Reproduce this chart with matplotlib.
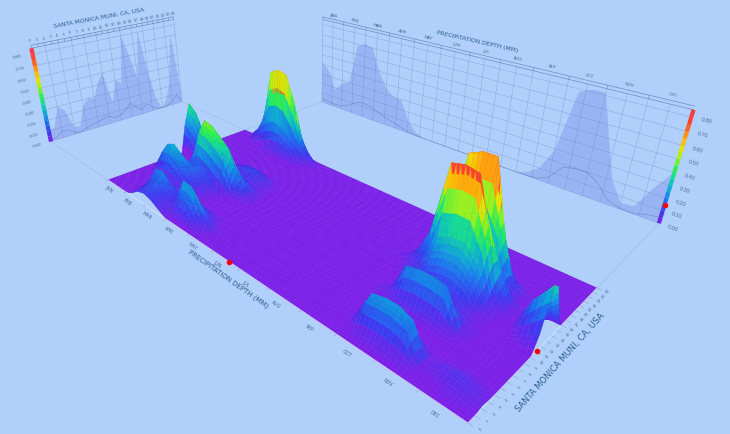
import numpy as np
import matplotlib
matplotlib.use('Agg')
import matplotlib.pyplot as plt
from matplotlib.colors import LinearSegmentedColormap
from mpl_toolkits.mplot3d.art3d import Poly3DCollection

month_names = ['JAN', 'FEB', 'MAR', 'APR', 'MAY', 'JUN', 'JUL', 'AUG', 'SEP', 'OCT', 'NOV', 'DEC']
hours = list(range(25))
# one column every third of a month
col_x = np.arange(37) / 3
station = 'SANTA MONICA MUNI, CA, USA'
depth_title = 'PRECIPITATION DEPTH (MM)'
z_ticks = [0.0, 0.1, 0.2, 0.3, 0.4, 0.5, 0.6, 0.7, 0.8]
z_top = 0.85
cursor_x, cursor_y, cursor_z = 5.6, 11.2, 0.15

# depth in 1/100 mm, one row per hour, columns 0-13 (Jan to mid Feb/Mar/Apr)
early_depth = [
    [0, 0, 0, 0, 3, 8, 10, 8, 4, 0, 0, 0, 0, 0],
    [0, 0, 0, 0, 4, 10, 12, 8, 5, 6, 12, 11, 4, 0],
    [0, 0, 0, 0, 4, 14, 17, 10, 6, 16, 30, 29, 12, 3],
    [0, 0, 0, 0, 6, 20, 22, 11, 5, 9, 15, 13, 5, 0],
    [0, 0, 0, 0, 2, 6, 7, 5, 3, 3, 5, 5, 2, 0],
    [0, 0, 0, 3, 6, 6, 4, 2, 0, 0, 0, 0, 0, 0],
    [0, 0, 10, 22, 24, 20, 13, 8, 3, 0, 0, 0, 0, 0],
    [0, 2, 10, 27, 30, 24, 16, 10, 6, 0, 0, 0, 0, 0],
    [0, 0, 3, 10, 12, 14, 16, 12, 8, 4, 0, 0, 0, 0],
    [0, 0, 0, 2, 5, 22, 42, 40, 35, 28, 12, 2, 0, 0],
    [0, 0, 0, 0, 10, 30, 50, 48, 42, 36, 20, 5, 0, 0],
    [0, 0, 0, 0, 3, 8, 18, 20, 20, 16, 10, 5, 0, 0],
    [0, 0, 0, 0, 0, 2, 3, 3, 5, 6, 5, 2, 0, 0],
    [25, 20, 10, 3, 0, 0, 3, 5, 9, 10, 6, 2, 0, 0],
    [42, 36, 18, 5, 2, 2, 4, 7, 10, 11, 8, 3, 0, 0],
    [20, 15, 5, 0, 0, 0, 2, 4, 6, 6, 3, 0, 0, 0],
    [0, 0, 0, 0, 0, 0, 0, 0, 0, 0, 0, 0, 0, 0],
    [0, 0, 0, 0, 0, 0, 0, 0, 0, 0, 0, 0, 0, 0],
    [0, 0, 0, 0, 0, 0, 0, 0, 0, 0, 0, 0, 0, 0],
    [0, 0, 0, 0, 0, 0, 0, 0, 0, 0, 0, 0, 0, 0],
    [0, 0, 0, 0, 0, 0, 0, 0, 0, 0, 0, 0, 0, 0],
    [0, 0, 0, 0, 0, 3, 5, 8, 8, 4, 0, 0, 0, 0],
    [0, 0, 0, 10, 18, 25, 28, 25, 18, 12, 5, 0, 0, 0],
    [0, 0, 0, 5, 30, 68, 72, 70, 50, 20, 5, 0, 0, 0],
    [0, 0, 0, 0, 5, 10, 12, 12, 8, 3, 0, 0, 0, 0],
]

# same, columns 25-36 (Sep to Dec)
late_depth = [
    [0, 0, 0, 0, 0, 0, 0, 0, 0, 0, 0, 0],
    [0, 0, 0, 3, 4, 4, 3, 0, 0, 2, 2, 0],
    [0, 0, 2, 20, 21, 21, 18, 2, 3, 5, 4, 2],
    [0, 0, 2, 23, 25, 25, 21, 2, 4, 6, 4, 1],
    [0, 0, 0, 4, 5, 5, 4, 0, 1, 2, 1, 0],
    [0, 0, 0, 0, 0, 0, 0, 0, 0, 0, 0, 0],
    [0, 0, 0, 0, 0, 0, 0, 0, 0, 0, 0, 0],
    [0, 0, 2, 6, 7, 7, 5, 2, 0, 0, 0, 0],
    [0, 2, 6, 26, 28, 28, 26, 4, 0, 0, 0, 0],
    [0, 0, 5, 11, 13, 13, 11, 3, 0, 0, 0, 0],
    [0, 0, 2, 6, 7, 8, 6, 2, 0, 0, 0, 0],
    [0, 0, 3, 9, 12, 12, 9, 2, 0, 0, 5, 12],
    [0, 3, 8, 20, 24, 24, 17, 5, 0, 0, 25, 40],
    [0, 5, 12, 32, 36, 36, 26, 7, 2, 0, 24, 36],
    [3, 8, 28, 78, 80, 78, 50, 15, 3, 0, 10, 22],
    [0, 10, 25, 55, 60, 58, 40, 20, 5, 0, 2, 8],
    [0, 0, 10, 25, 35, 35, 30, 10, 0, 0, 0, 0],
    [0, 0, 25, 78, 82, 82, 45, 12, 3, 0, 0, 0],
    [0, 0, 8, 35, 40, 40, 30, 6, 0, 0, 0, 0],
    [0, 0, 0, 8, 10, 10, 8, 0, 0, 0, 0, 0],
    [0, 0, 0, 0, 0, 0, 0, 0, 0, 0, 0, 0],
    [0, 0, 0, 0, 0, 0, 0, 0, 0, 0, 0, 0],
    [0, 0, 0, 0, 0, 0, 0, 0, 0, 0, 0, 0],
    [0, 0, 0, 0, 0, 0, 0, 0, 0, 0, 0, 0],
    [0, 0, 0, 0, 0, 0, 0, 0, 0, 0, 0, 0],
]

depth = np.zeros((25, 37))
depth[:, :14] = np.array(early_depth) / 100
depth[:, 25:] = np.array(late_depth) / 100

bg = '#b0cffa'
ramp_at = [0, 0.09, 0.18, 0.27, 0.35, 0.43, 0.51, 0.59, 0.67, 0.75, 0.85]
ramp = ['#7d1fe8', '#3f38f0', '#1f70f0', '#10a8d8', '#14d8a0',
        '#30f050', '#a0f020', '#f0e000', '#ff9a10', '#ff4a20', '#f03a50']
rainbow = LinearSegmentedColormap.from_list('rb', [(v / z_top, c) for v, c in zip(ramp_at, ramp)])

g, h, s = -0.422 / 12, 0.17739 / 24, -0.094
cam = np.array([
    [162.5 / 12, 180.46 / 24, 309 * s, 108],
    [(434 * g - 64.5 / 12), (434 * h + 26.94 / 24), (434 - 1368) * s, 434 - 180],
    [0, 0, 0, -1],
    [g, h, s, 1],
])

fig = plt.figure(figsize=(7.3, 4.34), dpi=100, facecolor=bg)
ax = fig.add_axes([0, 0, 1, 1], projection='3d', computed_zorder=False)
ax.set_axis_off()
ax.set_facecolor(bg)
# ortho only switches off mplot3d's clipping of lines and markers, the camera is ours
ax.set_proj_type('ortho')
ax.get_proj = lambda: cam
ax.apply_aspect = lambda position=None: None
ax.viewLim.intervalx = (0, 730)
ax.viewLim.intervaly = (0, 434)

wall_x = -3.72
wall_y = 41.64
line_c = '#45609f'
text_c = '#4a6a90'
title_c = '#2c5c8c'


def line(xs, ys, zs, c=line_c, lw=0.4, alpha=0.3, zo=2):
    ax.plot(xs, ys, zs, color=c, lw=lw, alpha=alpha, zorder=zo, solid_capstyle='butt')


def to_px(p):
    v = cam @ np.array([p[0], p[1], p[2], 1.0])
    return v[:2] / v[3]


def label(x, y, z, txt, along, size, color=text_c):
    # flat text placed and turned to follow a direction on the floor or a wall
    p0 = to_px((x, y, z))
    p1 = to_px((x + along[0], y + along[1], z + along[2]))
    ang = np.degrees(np.arctan2(p1[1] - p0[1], p1[0] - p0[0]))
    ax.text2D(p0[0], p0[1], txt, transform=ax.transData, rotation=ang, rotation_mode='anchor',
              fontsize=size, color=color, ha='center', va='center', zorder=7)


along_x = (1, 0, 0)
along_y = (0, 1, 0)

# left wall
for z in z_ticks:
    line([wall_x, wall_x], [0, 24], [z, z])
for y in hours[::2]:
    line([wall_x, wall_x], [y, y], [0, z_top])
for z in [z_top, z_top + 0.025]:
    line([wall_x, wall_x], [0, 24], [z, z], lw=0.5, alpha=0.6)
for y in hours:
    line([wall_x, wall_x], [y, y], [z_top, z_top + 0.025], lw=0.4, alpha=0.6)
    label(wall_x, y, z_top + 0.06, str(y), along_y, 2.8)
env_y = depth.max(axis=1)
ax.add_collection3d(Poly3DCollection(
    [list(zip([wall_x] * 25, hours, env_y)) + [(wall_x, 24, 0), (wall_x, 0, 0)]],
    facecolor=(0.36, 0.4, 0.88, 0.25), edgecolor='none', zorder=3))
line([wall_x] * 25, hours, depth.mean(axis=1), alpha=0.5, zo=3)
label(wall_x, 10.9, 0.99, station, along_y, 4.3, title_c)

# right wall
for z in z_ticks:
    line([0, 12], [wall_y, wall_y], [z, z])
for x in np.arange(0, 12.5, 0.5):
    line([x, x], [wall_y, wall_y], [0, z_top])
for z in [z_top, z_top + 0.025]:
    line([0, 12], [wall_y, wall_y], [z, z], lw=0.5, alpha=0.6)
for i, name in enumerate(month_names):
    line([i, i], [wall_y, wall_y], [z_top, z_top + 0.025], lw=0.4, alpha=0.6)
    label(i + 0.5, wall_y, z_top + 0.06, name, along_x, 3.2)
env_x = depth.max(axis=0)
ax.add_collection3d(Poly3DCollection(
    [list(zip(col_x, [wall_y] * 37, env_x)) + [(12, wall_y, 0), (0, wall_y, 0)]],
    facecolor=(0.36, 0.4, 0.88, 0.25), edgecolor='none', zorder=3))
line(col_x, [wall_y] * 37, depth.mean(axis=0), alpha=0.5, zo=3)
label(6.2, wall_y, 0.97, depth_title, along_x, 4.3, title_c)

# colour bars and their labels
bar_z = np.linspace(0, z_top, 18)
for a, b in zip(bar_z[:-1], bar_z[1:]):
    col = rainbow((a + b) / 2 / z_top)
    ax.plot([wall_x, wall_x], [0, 0], [a, b], color=col, lw=3, zorder=4, solid_capstyle='butt')
    ax.plot([12, 12], [wall_y, wall_y], [a, b], color=col, lw=3, zorder=4, solid_capstyle='butt')
for z in z_ticks:
    label(wall_x, -2.2, z, '%.2f' % z, along_y, 3.2)
    label(12.33, wall_y, z, '%.2f' % z, along_x, 3.6)

# faint lines from the floor corners out to the walls
for a, b, c, d in [(0, 0, wall_x, 0), (0, 24, wall_x, 24), (0, 24, 0, wall_y), (12, 24, 12, wall_y)]:
    line([a, c], [b, d], [0, 0], alpha=0.18)

# surface, faces split up so the colour runs along a slope
fine_x = np.linspace(0, 12, 109)
fine_y = np.linspace(0, 24, 73)
zx = np.array([np.interp(fine_x, col_x, r) for r in depth])
zf = np.array([np.interp(fine_y, hours, c) for c in zx.T]).T
XF, YF = np.meshgrid(fine_x, fine_y)
ax.plot_surface(XF, YF, zf, facecolors=rainbow(zf / z_top), shade=False, rstride=1, cstride=1,
                linewidth=0.25, antialiased=True, zorder=5)
X0, Y0 = np.meshgrid(col_x, hours)
ax.plot_wireframe(X0, Y0, depth, rstride=2, cstride=3, color='#202060', linewidth=0.25,
                  alpha=0.14, zorder=6)

# floor axes
line([0, 12], [0, 0], [0, 0], c='#d8e4fa', lw=0.7, alpha=0.9, zo=7)
line([12, 12], [0, 24], [0, 0], c='#d8e4fa', lw=0.7, alpha=0.9, zo=7)
for i, name in enumerate(month_names):
    line([i, i], [0, -0.35], [0, 0], c='#7088b8', alpha=0.6, zo=7)
    label(i + 0.5, -1.2, 0, name, along_x, 3.4)
for y in hours:
    line([12, 12.1], [y, y], [0, 0], c='#7088b8', alpha=0.6, zo=7)
    label(12.22, y + 0.2, 0, str(y), along_y, 2.8)
label(6.1, -1.9, 0, depth_title, along_x, 5, title_c)
label(12.45, 11.4, 0, station, along_y, 6, title_c)

# cursor markers
ax.scatter([cursor_x], [0], [0], c='red', s=9, depthshade=False, zorder=8)
ax.scatter([12], [cursor_y], [0], c='red', s=9, depthshade=False, zorder=8)
ax.scatter([12], [wall_y], [cursor_z], c='red', s=9, depthshade=False, zorder=8)

fig.savefig('out.png', dpi=100, facecolor=bg)
